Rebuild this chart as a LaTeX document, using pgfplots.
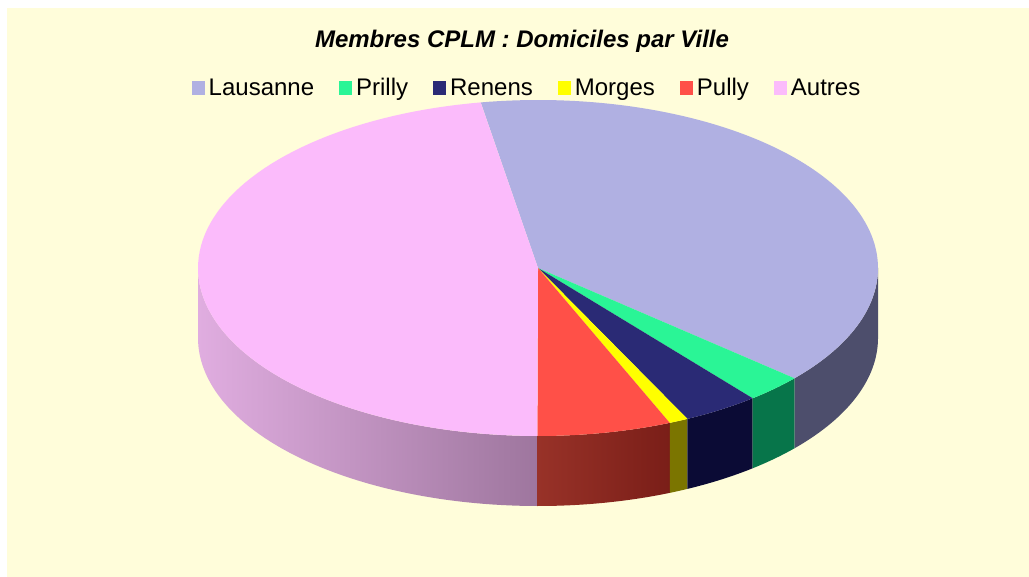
\documentclass[border=0pt]{standalone}
\usepackage{pgfplots}
\pgfplotsset{compat=1.18}
\usepackage{fontspec}
\setmainfont{Liberation Sans}
\definecolor{bgy}{HTML}{FFFDDA}
\definecolor{cLau}{HTML}{B0B0E2}
\definecolor{cPri}{HTML}{2AF596}
\definecolor{cRen}{HTML}{2A2A75}
\definecolor{cMor}{HTML}{FFFF00}
\definecolor{cPul}{HTML}{FF5048}
\definecolor{cAut}{HTML}{FBBBFB}
\definecolor{sLau}{HTML}{4D4E6C}
\definecolor{sPri}{HTML}{07754A}
\definecolor{sRen}{HTML}{0B0B35}
\definecolor{sMor}{HTML}{7B7500}
\definecolor{sPulL}{HTML}{983228}
\definecolor{sPulR}{HTML}{7A1E18}
\definecolor{sAutL}{HTML}{E0ADE0}
\definecolor{sAutR}{HTML}{9E769E}
% data: members per town
\def\vLau{43}\def\vPri{3}\def\vRen{4}\def\vMor{1}\def\vPul{7}\def\vAut{52}
\def\cx{538}\def\cy{268}\def\rx{340}\def\ry{168}\def\dep{70}
\newcommand\sector[3]{%
  \addplot[fill=#1, draw=none, domain=#3:#2, samples=90]
    ({\cx+\rx*cos(x)},{\cy-\ry*sin(x)}) -- (axis cs:\cx,\cy) -- cycle;}
\newcommand\side[3]{%
  \addplot[draw=none, forget plot, #3, domain=#1:#2, samples=60]
    ({\cx+\rx*cos(x)},{\cy-\ry*sin(x)})
    -- plot[domain=#2:#1, samples=60, variable=\t] ({\cx+\rx*cos(\t)},{\cy+\dep-\ry*sin(\t)}) -- cycle;}
\begin{document}
\begin{tikzpicture}
\pgfmathsetmacro\tot{\vLau+\vPri+\vRen+\vMor+\vPul+\vAut}
\pgfmathsetmacro\aA{99.7}
\pgfmathsetmacro\aB{\aA-\vLau/\tot*360}
\pgfmathsetmacro\aC{\aB-\vPri/\tot*360}
\pgfmathsetmacro\aD{\aC-\vRen/\tot*360}
\pgfmathsetmacro\aE{\aD-\vMor/\tot*360}
\pgfmathsetmacro\aF{\aE-\vPul/\tot*360}
\pgfmathsetmacro\aG{\aF-\vAut/\tot*360}
\fill[white] (0,0) rectangle (1029bp,577bp);
\fill[bgy] (7bp,0) rectangle (1029bp,569bp);
\begin{axis}[at={(0,0)}, anchor=south west, scale only axis,
  width=1029bp, height=577bp, xmin=0, xmax=1029, ymin=0, ymax=577,
  y dir=reverse, axis lines=none, clip=false,
  legend columns=-1,
  legend image code/.code={\fill[#1] (0bp,-7bp) rectangle (13bp,7bp); \path (15bp,0bp);},
  legend style={at={(axis cs:527,88)}, anchor=center, draw=none, fill=none,
    font=\fontsize{24bp}{28bp}\selectfont, nodes={inner sep=2bp},
    /tikz/every even column/.append style={column sep=23bp}},
]
% side walls (front half)
\side{-180}{\aF}{left color=sAutL, right color=sAutR}
\side{\aF}{\aE}{left color=sPulL, right color=sPulR}
\side{\aE}{\aD}{fill=sMor}
\side{\aD}{\aC}{fill=sRen}
\side{\aC}{\aB}{fill=sPri}
\side{\aB}{0}{fill=sLau}
% top faces
\sector{cLau}{\aA}{\aB}
\addlegendentry{Lausanne}
\sector{cPri}{\aB}{\aC}
\addlegendentry{Prilly}
\sector{cRen}{\aC}{\aD}
\addlegendentry{Renens}
\sector{cMor}{\aD}{\aE}
\addlegendentry{Morges}
\sector{cPul}{\aE}{\aF}
\addlegendentry{Pully}
\sector{cAut}{\aF}{\aG}
\addlegendentry{Autres}
\node[font=\fontsize{24bp}{28bp}\selectfont\bfseries\itshape, anchor=center]
  at (axis cs:522,41) {Membres CPLM : Domiciles par Ville};
\end{axis}
\end{tikzpicture}
\end{document}
